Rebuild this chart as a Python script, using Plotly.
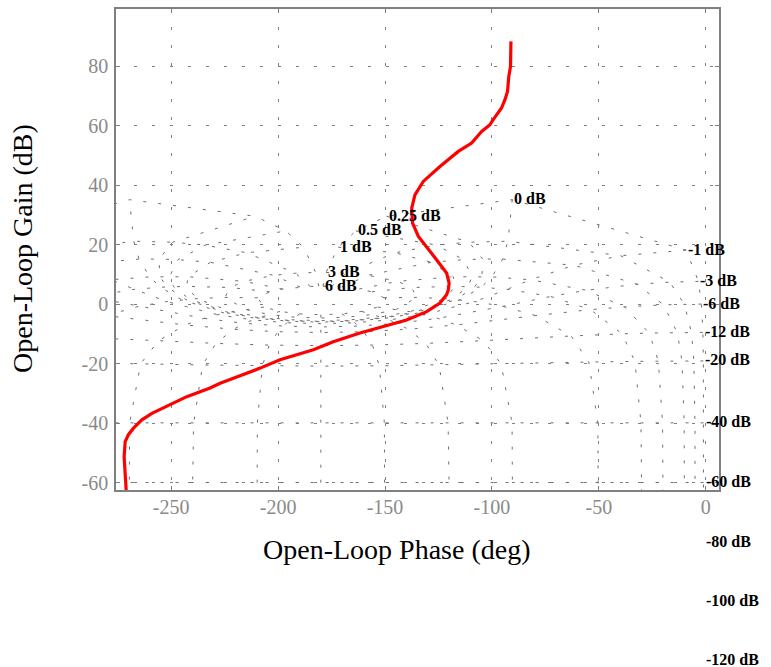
import numpy as np
import plotly.graph_objects as go

# ---- open-loop frequency response ----
ol_phase_deg = [-91.1, -91.0, -91.3, -92.1, -92.7, -93.9, -95.5, -99.4, -100.9, -104.8,
                -109.5, -115.7, -119.6, -124.3, -132.1, -136.0, -137.5, -137.1, -134.4,
                -130.5, -125.8, -121.2, -120.0, -120.4, -121.2, -124.3, -130.5, -139.9,
                -150.8, -161.7, -174.2, -183.5, -199.1, -208.4, -227.1, -231.8, -242.7,
                -245.8, -250.5, -259.0, -263.7, -267.6, -270.0, -271.5, -272.0, -271.5,
                -271.5, -271.0]
ol_gain_db = [88.4, 83.4, 80.0, 76.6, 71.6, 68.8, 66.0, 62.1, 60.4, 58.1,
              54.2, 51.4, 49.2, 46.3, 41.3, 36.8, 32.3, 27.3, 22.8,
              19.4, 14.9, 10.5, 7.1, 4.8, 3.2, 0.4, -2.5, -5.3,
              -7.5, -9.7, -12.6, -15.3, -18.7, -21.5, -26.6, -28.2, -31.1,
              -32.2, -33.9, -36.7, -38.9, -41.7, -43.9, -46.2, -51.3, -55.8,
              -59.2, -63.0]

# ---- Nichols grid definition ----
cl_gain_db = [6, 3, 1, 0.5, 0.25, 0, -1, -3, -6, -12, -20, -40, -60, -80, -100, -120]
cl_gain_labels = ["6 dB", "3 dB", "1 dB", "0.5 dB", "0.25 dB", "0 dB", "-1 dB", "-3 dB",
                  "-6 dB", "-12 dB", "-20 dB", "-40 dB", "-60 dB", "-80 dB", "-100 dB",
                  "-120 dB"]
cl_phase_deg = [-1, -5, -10, -20, -30, -50, -90, -120, -150, -180,
                -210, -240, -270, -310, -330, -340, -350, -355, -359]

x_ticks = [-250, -200, -150, -100, -50, 0]
x_tick_labels = ["-250", "-200", "-150", "-100", "-50", "0"]
y_ticks = [-60, -40, -20, 0, 20, 40, 60, 80]
y_tick_labels = ["-60", "-40", "-20", "0", "20", "40", "60", "80"]

X_RANGE = [-275.8, 6.2]
Y_RANGE = [-62.5, 99.3]

# open-loop coordinates of the closed-loop contours: G = T / (1 - T)
m = 10 ** (np.array(cl_gain_db, dtype=float) / 20.0)[:, None]
a = np.deg2rad(np.array(cl_phase_deg, dtype=float))[None, :]
T = m * np.exp(1j * a)
G = T / (1 - T)
grid_gain = 20 * np.log10(np.abs(G))
grid_phase = np.mod(np.angle(G, deg=True), 360.0) - 360.0

gx, gy = [], []
for i in range(grid_gain.shape[0]):          # constant closed-loop gain (M contours)
    gx += list(grid_phase[i, :]) + [None]
    gy += list(grid_gain[i, :]) + [None]
for j in range(grid_gain.shape[1]):          # constant closed-loop phase (N contours)
    gx += list(grid_phase[:, j]) + [None]
    gy += list(grid_gain[:, j]) + [None]

GRAY = "#808080"
SERIF = "Liberation Serif, Times New Roman, serif"

fig = go.Figure()
fig.add_trace(go.Scatter(x=gx, y=gy, mode="lines", hoverinfo="skip",
                         line=dict(color="#6e6e6e", width=1, dash="3px,12px"),
                         connectgaps=False, showlegend=False))
fig.add_trace(go.Scatter(x=ol_phase_deg, y=ol_gain_db, mode="lines",
                         line=dict(color="#ff0000", width=3.2), showlegend=False))

# contour labels at the first point of each closed-loop gain contour
for i, lab in enumerate(cl_gain_labels):
    yp = (grid_gain[i, 0] - Y_RANGE[0]) / (Y_RANGE[1] - Y_RANGE[0])
    fig.add_annotation(x=grid_phase[i, 0], y=yp, xref="x", yref="paper", text=lab,
                       showarrow=False, xanchor="left", yanchor="middle", yshift=1,
                       font=dict(family=SERIF, size=16, color="black", weight="bold"))

fig.add_annotation(x=0.466, y=-0.1227, xref="paper", yref="paper",
                   text="Open-Loop Phase (deg)", showarrow=False,
                   xanchor="center", yanchor="middle",
                   font=dict(family=SERIF, size=28, color="black"))
fig.add_annotation(x=-0.156, y=0.503, xref="paper", yref="paper",
                   text="Open-Loop Gain (dB)", showarrow=False, textangle=-90,
                   xanchor="center", yanchor="middle",
                   font=dict(family=SERIF, size=28, color="black"))

axis_common = dict(showline=True, mirror="ticks", linecolor=GRAY, linewidth=1.5,
                   ticks="inside", ticklen=4, tickcolor=GRAY,
                   showgrid=True, gridcolor=GRAY, gridwidth=1, griddash="3px,15px",
                   zeroline=False, tickfont=dict(family=SERIF, size=20, color="#8a8a8a"))
fig.update_xaxes(range=X_RANGE, tickvals=x_ticks, ticktext=x_tick_labels,
                 ticklabelstandoff=-2, **axis_common)
fig.update_yaxes(range=Y_RANGE, tickvals=y_ticks, ticktext=y_tick_labels,
                 ticklabelstandoff=2, **axis_common)

fig.update_layout(width=771, height=667,
                  margin=dict(l=116, r=52, t=9, b=177, autoexpand=False),
                  paper_bgcolor="white", plot_bgcolor="white", showlegend=False)

fig.write_html("out.html", config={"displayModeBar": False},
               post_script="document.body.style.margin='0';document.body.style.overflow='hidden';")
